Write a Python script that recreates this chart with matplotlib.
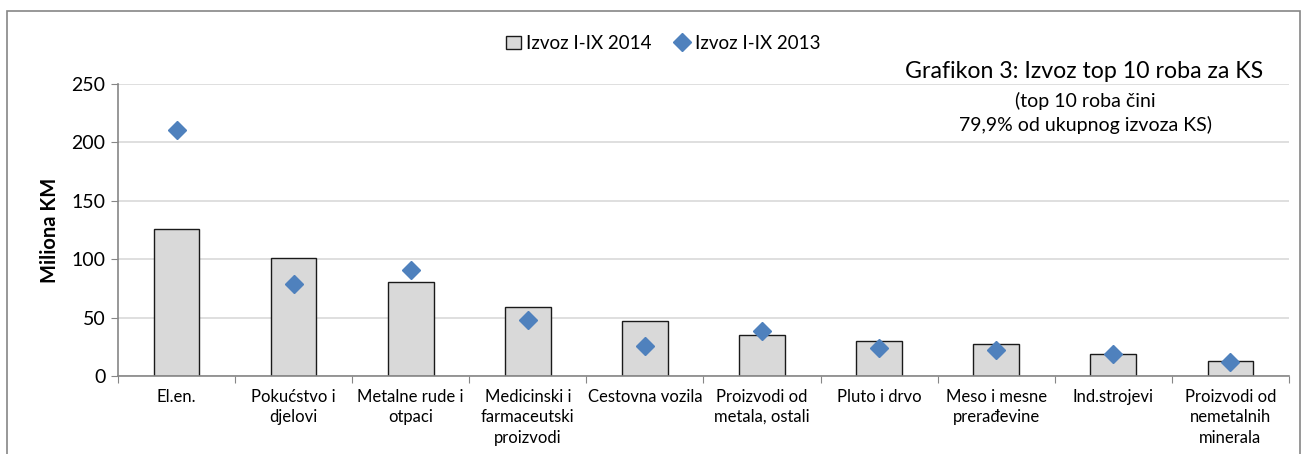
import matplotlib.pyplot as plt
import numpy as np

plt.rcParams["font.family"] = ["Lato", "DejaVu Sans"]

categories = [
    "El.en.",
    "Pokućstvo i\ndjelovi",
    "Metalne rude i\notpaci",
    "Medicinski i\nfarmaceutski\nproizvodi",
    "Cestovna vozila",
    "Proizvodi od\nmetala, ostali",
    "Pluto i drvo",
    "Meso i mesne\nprerađevine",
    "Ind.strojevi",
    "Proizvodi od\nnemetalnih\nminerala",
]
izvoz_2014 = [125.6, 101.3, 80.5, 58.8, 46.8, 35.1, 29.7, 27.7, 18.8, 13.1]
izvoz_2013 = [210.6, 78.5, 90.5, 48.2, 25.7, 38.3, 23.7, 22.0, 18.8, 11.7]
y_ticks = [0, 50, 100, 150, 200, 250]

fig = plt.figure(figsize=(13.05, 4.54), dpi=100)
ax = fig.add_axes([0.0904, 0.1718, 0.8973, 0.6432])

# outer chart border
fig.patches.append(plt.Rectangle((0.0054, -0.05), 0.991, 1.026, transform=fig.transFigure,
                                 fill=False, edgecolor="#868686", linewidth=1.2))

x = np.arange(len(categories))
bars = ax.bar(x, izvoz_2014, width=0.39, color="#d9d9d9", edgecolor="#1a1a1a",
              linewidth=1.0, label="Izvoz I-IX 2014", zorder=2)
pts, = ax.plot(x, izvoz_2013, linestyle="none", marker="D", markersize=9,
               color="#4f81bd", label="Izvoz I-IX 2013", zorder=3)

ax.set_xlim(-0.5, len(categories) - 0.5)
ax.set_ylim(0, 250)
ax.set_yticks(y_ticks)
ax.set_yticklabels([str(t) for t in y_ticks], fontsize=14)
ax.yaxis.grid(True, color="#d9d9d9", linewidth=1.2, zorder=0)
ax.set_axisbelow(True)

ax.set_xticks(np.arange(-0.5, len(categories), 1.0))
ax.set_xticklabels([])
ax.set_xticks(x, minor=True)
ax.set_xticklabels(categories, minor=True, fontsize=12, linespacing=1.35)
ax.tick_params(axis="x", which="minor", length=0, pad=9)
ax.tick_params(axis="x", which="major", length=5, color="#868686")
ax.tick_params(axis="y", length=5, color="#868686", pad=4)

for side in ["top", "right"]:
    ax.spines[side].set_visible(False)
for side in ["left", "bottom"]:
    ax.spines[side].set_color("#868686")
    ax.spines[side].set_linewidth(1.2)

ax.set_ylabel("Miliona KM", fontsize=14.5, fontweight="bold", labelpad=8)

ax.legend([bars, pts], ["Izvoz I-IX 2014", "Izvoz I-IX 2013"],
          loc="center", bbox_to_anchor=(0.508, 0.905), bbox_transform=fig.transFigure,
          ncol=2, frameon=False, fontsize=13.5, handlelength=0.8, handletextpad=0.3,
          columnspacing=1.2)

fig.text(0.831, 0.843, "Grafikon 3: Izvoz top 10 roba za KS", ha="center", va="center",
         fontsize=16.7)
fig.text(0.832, 0.797, "(top 10 roba čini\n79,9% od ukupnog izvoza KS)", ha="center",
         va="top", fontsize=14, linespacing=1.35)

fig.savefig("out.png", dpi=100)
plt.close(fig)
